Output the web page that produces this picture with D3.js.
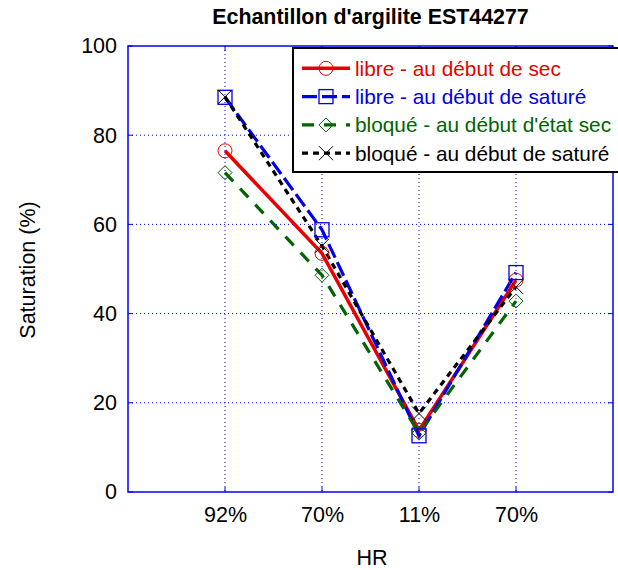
<!DOCTYPE html>
<html><head><meta charset="utf-8">
<script src="https://cdn.jsdelivr.net/npm/d3@7"></script>
<style>body{margin:0;background:#fff;}svg{display:block;font-family:"Liberation Sans",Arial,sans-serif;}</style>
</head><body><svg id="c" width="618" height="570"></svg>
<script>
const categories = ["92%", "70%", "11%", "70%"];
const libreSec = [76.5, 53.5, 13.8, 47.5];
const libreSat = [88.5, 58.8, 12.6, 49.2];
const bloqueSec = [71.6, 48.6, 13.2, 42.8];
const bloqueSat = [88.6, 55.2, 17.6, 46.0];
const yTicks = [0, 20, 40, 60, 80, 100];
const seriesNames = ["libre - au début de sec", "libre - au début de saturé", "bloqué - au début d'état sec", "bloqué - au début de saturé"];

const svg = d3.select("#c");
const L = 128, R = 613, T = 46, B = 492;
const x = d3.scaleLinear().domain([0, 5]).range([L, R]);
const y = d3.scaleLinear().domain([0, 100]).range([B, T]);
const blue = "#0000ff";
const FS = 21.5;

// grid
const g = svg.append("g");
categories.forEach((c, i) => {
  g.append("line").attr("x1", x(i + 1)).attr("x2", x(i + 1)).attr("y1", T).attr("y2", B)
    .attr("stroke", blue).attr("stroke-width", 1).attr("stroke-dasharray", "1,3");
});
yTicks.slice(1, -1).forEach(t => {
  g.append("line").attr("x1", L).attr("x2", R).attr("y1", y(t)).attr("y2", y(t))
    .attr("stroke", blue).attr("stroke-width", 1).attr("stroke-dasharray", "1,3");
});

// axes
const xAxis = d3.axisBottom(x).tickValues([1, 2, 3, 4]).tickFormat((d) => categories[d - 1]).tickSize(0).tickPadding(15);
const xg = svg.append("g").attr("transform", `translate(0,${B})`).call(xAxis);
xg.select(".domain").remove();
xg.selectAll("text").attr("font-size", FS).attr("fill", "#000").attr("font-family", "Liberation Sans, Arial, sans-serif");
const yAxis = d3.axisLeft(y).tickValues(yTicks).tickSize(0).tickPadding(11);
const yg = svg.append("g").attr("transform", `translate(${L},0)`).call(yAxis);
yg.select(".domain").remove();
yg.selectAll("text").attr("font-size", FS).attr("fill", "#000").attr("font-family", "Liberation Sans, Arial, sans-serif");

// frame
svg.append("rect").attr("x", L).attr("y", T).attr("width", R - L).attr("height", B - T)
  .attr("fill", "none").attr("stroke", blue).attr("stroke-width", 1.5);
// inner ticks
[1, 2, 3, 4].forEach(i => {
  svg.append("line").attr("x1", x(i)).attr("x2", x(i)).attr("y1", B).attr("y2", B - 5).attr("stroke", blue);
  svg.append("line").attr("x1", x(i)).attr("x2", x(i)).attr("y1", T).attr("y2", T + 5).attr("stroke", blue);
});
yTicks.forEach(t => {
  svg.append("line").attr("x1", L).attr("x2", L + 5).attr("y1", y(t)).attr("y2", y(t)).attr("stroke", blue);
  svg.append("line").attr("x1", R).attr("x2", R - 5).attr("y1", y(t)).attr("y2", y(t)).attr("stroke", blue);
});

const series = [
  {name: seriesNames[0], vals: libreSec, color: "#e60000", dash: null, marker: "circle", w: 3.5},
  {name: seriesNames[1], vals: libreSat, color: "#0000e6", dash: "15,5", marker: "square", w: 3.2},
  {name: seriesNames[2], vals: bloqueSec, color: "#006400", dash: "12,10", marker: "diamond", w: 3.2},
  {name: seriesNames[3], vals: bloqueSat, color: "#000000", dash: "6,5", marker: "cross", w: 3.2}
];

const line = d3.line().x((d, i) => x(i + 1)).y(d => y(d));

function marker(sel, type, color, cx, cy) {
  const s = 7;
  if (type === "circle") sel.append("circle").attr("cx", cx).attr("cy", cy).attr("r", s).attr("fill", "none").attr("stroke", color).attr("stroke-width", 1);
  if (type === "square") sel.append("rect").attr("x", cx - s).attr("y", cy - s).attr("width", 2 * s).attr("height", 2 * s).attr("fill", "none").attr("stroke", color).attr("stroke-width", 1.3);
  if (type === "diamond") sel.append("path").attr("d", `M${cx},${cy - s}L${cx + s},${cy}L${cx},${cy + s}L${cx - s},${cy}Z`).attr("fill", "none").attr("stroke", color).attr("stroke-width", 1);
  if (type === "cross") sel.append("path").attr("d", `M${cx - s},${cy - s}L${cx + s},${cy + s}M${cx - s},${cy + s}L${cx + s},${cy - s}`).attr("fill", "none").attr("stroke", color).attr("stroke-width", 1);
}

const pg = svg.append("g");
series.forEach(s => {
  pg.append("path").attr("d", line(s.vals)).attr("fill", "none").attr("stroke", s.color)
    .attr("stroke-width", s.w).attr("stroke-dasharray", s.dash);
});
series.forEach(s => {
  s.vals.forEach((v, i) => marker(pg, s.marker, s.color, x(i + 1), y(v)));
});

// legend
const lg = svg.append("g");
lg.append("rect").attr("x", 293).attr("y", 48).attr("width", 340).attr("height", 124)
  .attr("fill", "#fff").attr("stroke", "#000").attr("stroke-width", 2);
series.forEach((s, i) => {
  const yy = 68.3 + i * 28.3;
  lg.append("line").attr("x1", 302).attr("x2", 350).attr("y1", yy).attr("y2", yy)
    .attr("stroke", s.color).attr("stroke-width", s.w).attr("stroke-dasharray", s.dash);
  marker(lg, s.marker, s.color, 326, yy);
  lg.append("text").attr("x", 355).attr("y", yy + 7.5).attr("font-size", 20.8).attr("fill", s.color).text(s.name);
});

// title & labels
svg.append("text").attr("x", 370.5).attr("y", 23.5).attr("text-anchor", "middle").attr("font-size", 21.4)
  .attr("font-weight", "bold").text("Echantillon d'argilite EST44277");
svg.append("text").attr("x", 372).attr("y", 565).attr("text-anchor", "middle").attr("font-size", FS).text("HR");
svg.append("text").attr("transform", `translate(35,270) rotate(-90)`).attr("text-anchor", "middle").attr("font-size", FS).text("Saturation (%)");
</script></body></html>
